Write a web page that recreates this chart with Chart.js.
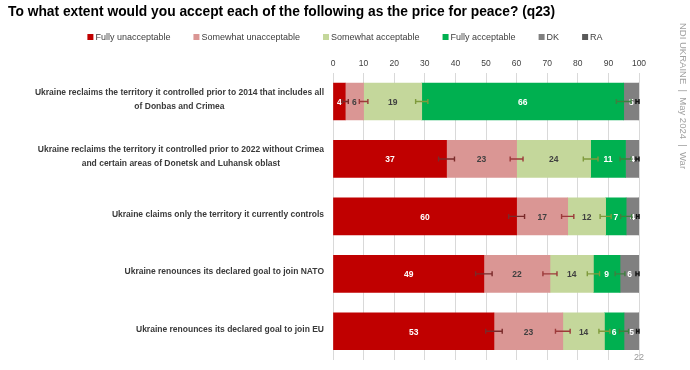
<!DOCTYPE html>
<html>
<head>
<meta charset="utf-8">
<script src="https://cdn.jsdelivr.net/npm/chart.js@4"></script>
<style>
  html, body { margin: 0; padding: 0; background: #fff; }
  #wrap { width: 690px; height: 370px; }
</style>
</head>
<body>
<div id="wrap"><canvas id="peaceChart" width="690" height="370"></canvas></div>
<script>
var categories = [
    ['Ukraine reclaims the territory it controlled prior to 2014 that includes all', 'of Donbas and Crimea'],
    ['Ukraine reclaims the territory it controlled prior to 2022 without Crimea', 'and certain areas of Donetsk and Luhansk oblast'],
    ['Ukraine claims only the territory it currently controls'],
    ['Ukraine renounces its declared goal to join NATO'],
    ['Ukraine renounces its declared goal to join EU']
];
var seriesNames = ['Fully unacceptable', 'Somewhat unacceptable', 'Somewhat acceptable', 'Fully acceptable', 'DK', 'RA'];
var fullyUnacceptable    = [4, 37.1, 60.0, 49.3, 52.6];
var somewhatUnacceptable = [6, 22.9, 16.7, 21.6, 22.5];
var somewhatAcceptable   = [19, 24.2, 12.4, 14.2, 13.6];
var fullyAcceptable      = [66, 11.4, 6.7, 8.7, 6.4];
var dk                   = [5, 4.4, 4.2, 6.2, 4.9];
var ra                   = [0, 0, 0, 0, 0];
// margin of error (+/-), drawn at the end of each segment
var errFullyUnacc = [1.0, 2.6, 2.6, 2.7, 2.7];
var errSomeUnacc  = [1.4, 2.1, 2.0, 2.3, 2.4];
var errSomeAcc    = [2.0, 2.4, 1.8, 2.0, 1.8];
var errFullyAcc   = [2.4, 1.8, 1.8, 1.6, 1.5];
var errDk         = [1.0, 1.0, 0.8, 1.0, 0.8];
var xTicks = [0, 10, 20, 30, 40, 50, 60, 70, 80, 90, 100];

var FONT = "'Liberation Sans', Arial, sans-serif";
var colors = ['#C00000', '#DA9694', '#C4D79B', '#00B050', '#808080', '#595959'];
var labelColors = ['#ffffff', '#404040', '#404040', '#ffffff', '#ffffff', '#ffffff'];
var errColors = ['#7a2a2a', '#9c3a3a', '#7f9a3c', '#3f7f3f', '#111111'];

var seriesData = [fullyUnacceptable, somewhatUnacceptable, somewhatAcceptable, fullyAcceptable, dk, ra];
var errData = [errFullyUnacc, errSomeUnacc, errSomeAcc, errFullyAcc, errDk];

var overlayPlugin = {
    id: 'overlay',
    afterDatasetsDraw: function (chart) {
        var ctx = chart.ctx;
        var x = chart.scales.x;
        ctx.save();
        // segment values
        ctx.font = 'bold 8.5px ' + FONT;
        ctx.textAlign = 'center';
        ctx.textBaseline = 'middle';
        for (var d = 0; d < 5; d++) {
            var meta = chart.getDatasetMeta(d);
            meta.data.forEach(function (bar, i) {
                var v = seriesData[d][i];
                if (v < 1) return;
                ctx.fillStyle = labelColors[d];
                ctx.fillText(Math.round(v), (bar.x + bar.base) / 2, bar.y + 1);
            });
        }
        // error bars
        for (var e = 0; e < errData.length; e++) {
            var m = chart.getDatasetMeta(e);
            m.data.forEach(function (bar, i) {
                var end = 0;
                for (var k = 0; k <= e; k++) end += seriesData[k][i];
                var x1 = x.getPixelForValue(end - errData[e][i]);
                var x2 = Math.min(x.getPixelForValue(end + errData[e][i]), x.right);
                ctx.strokeStyle = errColors[e];
                ctx.lineWidth = 1.4;
                ctx.beginPath();
                ctx.moveTo(x1, bar.y); ctx.lineTo(x2, bar.y);
                ctx.moveTo(x1, bar.y - 2.5); ctx.lineTo(x1, bar.y + 2.5);
                ctx.moveTo(x2, bar.y - 2.5); ctx.lineTo(x2, bar.y + 2.5);
                ctx.stroke();
            });
        }
        ctx.restore();
    },
    afterDraw: function (chart) {
        var ctx = chart.ctx;
        var y = chart.scales.y;
        ctx.save();
        // legend: marker + text, fixed gap, centred on the canvas
        ctx.font = '9px ' + FONT;
        ctx.textBaseline = 'middle';
        ctx.textAlign = 'left';
        var gap = 23, total = 0;
        var widths = chart.data.datasets.map(function (ds) {
            var w = 8 + ctx.measureText(ds.label).width;
            total += w;
            return w;
        });
        total += gap * (widths.length - 1);
        var lx = (chart.width - total) / 2, ly = 37;
        chart.data.datasets.forEach(function (ds, i) {
            ctx.fillStyle = ds.backgroundColor;
            ctx.fillRect(lx, ly - 3, 6, 6);
            ctx.fillStyle = '#404040';
            ctx.fillText(ds.label, lx + 8, ly + 0.5);
            lx += widths[i] + gap;
        });
        // category labels: block right-aligned, lines centred
        ctx.font = 'bold 8.5px ' + FONT;
        ctx.fillStyle = '#3a3a3a';
        ctx.textAlign = 'center';
        var rightEdge = 324, lh = 14;
        categories.forEach(function (lines, i) {
            var w = 0;
            lines.forEach(function (l) { w = Math.max(w, ctx.measureText(l).width); });
            var cx = rightEdge - w / 2;
            var cy = y.getPixelForValue(i) - (lines.length - 1) * lh / 2 - 2;
            lines.forEach(function (l, j) { ctx.fillText(l, cx, cy + j * lh); });
        });
        // page number
        ctx.font = '9px ' + FONT;
        ctx.fillStyle = '#9a9a9a';
        ctx.fillText('22', 639, 358);
        // side note
        ctx.font = '9.5px ' + FONT;
        ctx.fillStyle = '#a0a0a0';
        ctx.translate(683, 23);
        ctx.rotate(Math.PI / 2);
        ctx.textAlign = 'left';
        ctx.fillText('NDI UKRAINE  |  May 2024  |  War', 0, 0);
        ctx.restore();
    }
};

var ctx = document.getElementById('peaceChart').getContext('2d');
var chart = new Chart(ctx, {
    type: 'bar',
    data: {
        labels: categories,
        datasets: seriesNames.map(function (name, i) {
            return {
                label: name,
                data: seriesData[i],
                backgroundColor: colors[i],
                borderWidth: 0,
                barThickness: 37
            };
        })
    },
    options: {
        indexAxis: 'y',
        responsive: false,
        animation: false,
        layout: { padding: { left: 8, right: 51, top: 4, bottom: 10 } },
        scales: {
            x: {
                position: 'top',
                stacked: true,
                min: 0,
                max: 100,
                afterBuildTicks: function (scale) {
                    scale.ticks = xTicks.map(function (v) { return { value: v }; });
                },
                ticks: { font: { family: FONT, size: 8.5 }, color: '#404040', padding: 4 },
                grid: { color: '#d9d9d9', drawTicks: false },
                border: { display: false }
            },
            y: {
                stacked: true,
                ticks: { display: false },
                grid: { display: false },
                border: { display: false },
                afterFit: function (scale) { scale.width = 325; }
            }
        },
        plugins: {
            title: {
                display: true,
                text: 'To what extent would you accept each of the following as the price for peace? (q23)',
                align: 'start',
                color: '#000',
                font: { family: FONT, size: 13.8, weight: 'bold' },
                padding: { top: 0, bottom: 34 }
            },
            legend: { display: false },
            tooltip: { enabled: false }
        }
    },
    plugins: [overlayPlugin]
});
</script>
</body>
</html>
